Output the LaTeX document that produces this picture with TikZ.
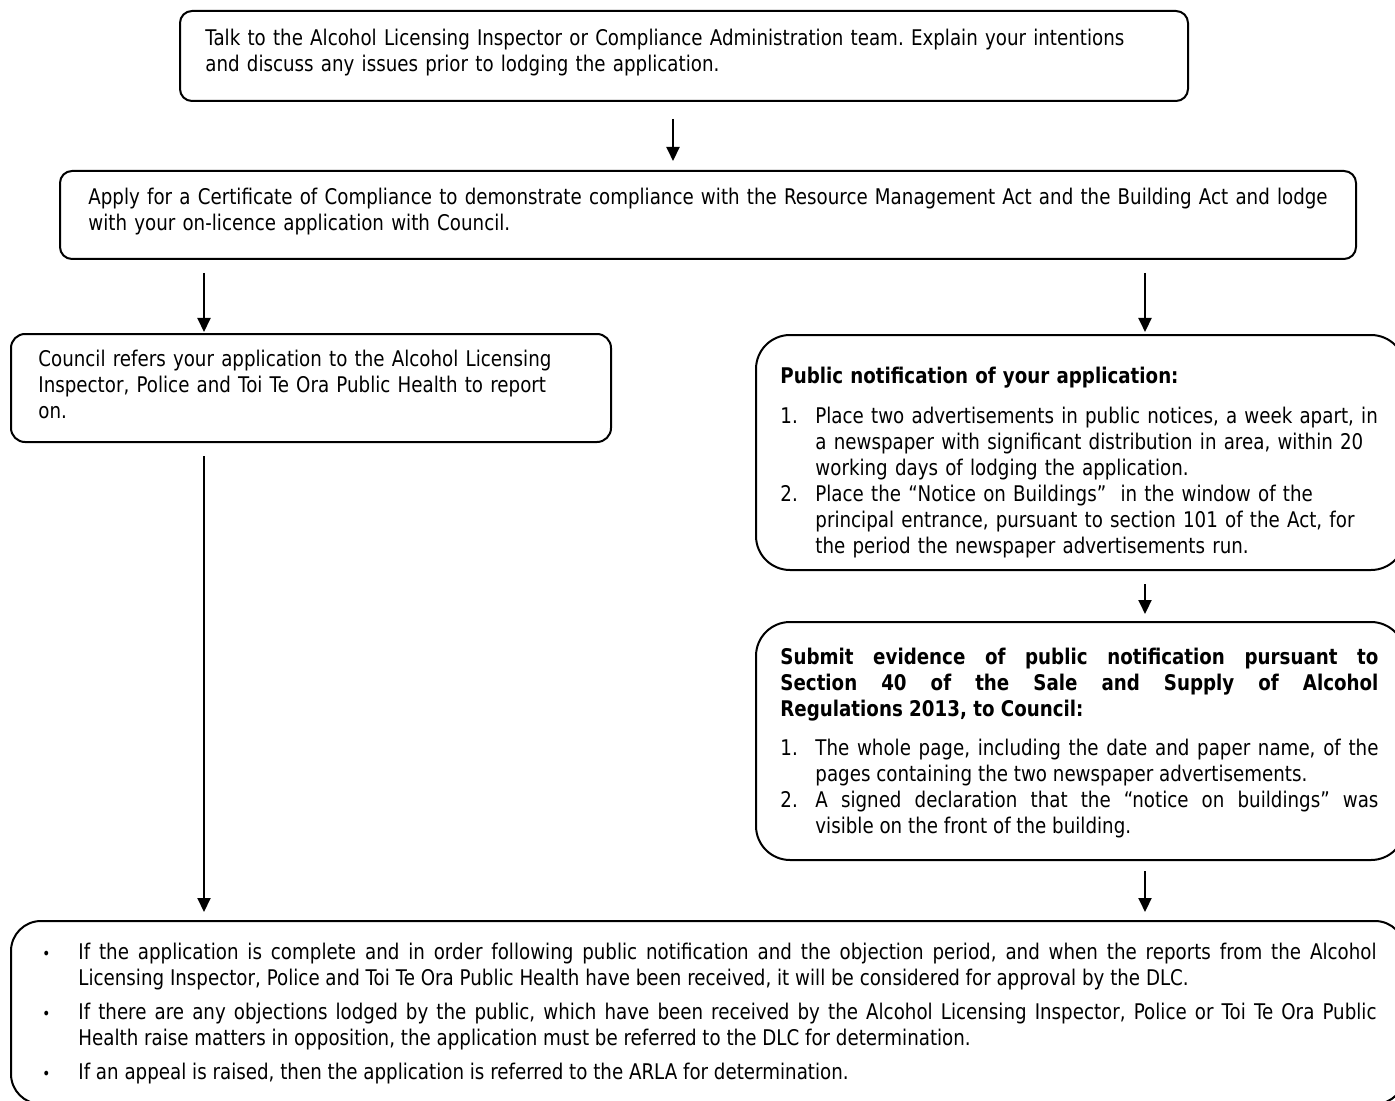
\documentclass[tikz,border=0pt]{standalone}
\usepackage{fontspec}
\setmainfont{DejaVu Sans}[FakeStretch=0.845]
\usetikzlibrary{arrows.meta,fit}
\frenchspacing
\newcommand\numitem[1]{\par\hangindent=17.5pt\hangafter=1\noindent\makebox[17.5pt][l]{#1}}
\newcommand\bulhead{\hangindent=18pt\hangafter=1\noindent\makebox[18pt][l]{\footnotesize•}}
\begin{document}
\begin{tikzpicture}[x=0.5pt,y=-0.5pt,
  box/.style={draw, line width=1pt, inner sep=0pt, rounded corners=#1},
  box/.default=6pt,
  txt/.style={inner sep=0pt, anchor=north west, font=\fontsize{10.8pt}{13pt}\selectfont},
  arr/.style={line width=1pt, -{Triangle[length=7pt,width=6.5pt]}}]
\useasboundingbox (0,0) rectangle (1395,1101);
\clip (0,0) rectangle (1395,1101);
\fill[white] (0,0) rectangle (1395,1101);
% boxes
\node[box, fit={(180,11) (1188,101)}] (b1) {};
\node[box, fit={(60,171) (1356,259)}] (b2) {};
\node[box=7pt, fit={(11,334) (611,442)}] (b3) {};
\node[box=17pt, fit={(756,335) (1405,570)}] (b4) {};
\node[box=17pt, fit={(756,622) (1405,860)}] (b5) {};
\node[box=15pt, fit={(11,921) (1405,1104)}] (b6) {};
% texts
\node[txt, text width=485pt, align=left] (t1) at (205,29)
 {Talk to the Alcohol Licensing Inspector or Compliance Administration team. Explain your intentions\\
  and discuss any issues prior to lodging the application.};
\node[txt, text width=635pt, align=left] (t2) at (88,188)
 {Apply for a Certificate of Compliance to demonstrate compliance with the Resource Management Act and the Building Act and lodge\\
  with your on-licence application with Council.};
\node[txt, text width=285pt, align=left] (t3) at (38,350)
 {Council refers your application to the Alcohol Licensing\\
  Inspector, Police and Toi Te Ora Public Health to report\\
  on.};
\node[txt, text width=310pt, align=left] (t4) at (780,367)
 {\textbf{Public notification of your application:}\par\vspace{7pt}
  \numitem{1.}Place two advertisements in public notices, a week apart, in\newline
  a newspaper with significant distribution in area, within 20\newline
  working days of lodging the application.
  \numitem{2.}Place the “Notice on Buildings”\ \ in the window of the\newline
  principal entrance, pursuant to section 101 of the Act, for\newline
  the period the newspaper advertisements run.\par};
\node[txt, text width=299pt, align=justify] (t5) at (780,648)
 {\textbf{Submit evidence of public notification pursuant to\linebreak
  Section 40 of the Sale and Supply of Alcohol\linebreak
  Regulations 2013, to Council:}\par\vspace{6.5pt}
  \numitem{1.}The whole page, including the date and paper name, of the\linebreak
  pages containing the two newspaper advertisements.
  \numitem{2.}A signed declaration that the “notice on buildings” was\linebreak
  visible on the front of the building.\par};
\node[txt, text width=667pt, align=justify] (t6) at (42,943)
 {\parskip=4pt\bulhead If the application is complete and in order following public notification and the objection period, and when the reports from the Alcohol\linebreak
  Licensing Inspector, Police and Toi Te Ora Public Health have been received, it will be considered for approval by the DLC.
  \par\bulhead If there are any objections lodged by the public, which have been received by the Alcohol Licensing Inspector, Police or Toi Te Ora Public\linebreak
  Health raise matters in opposition, the application must be referred to the DLC for determination.
  \par\bulhead If an appeal is raised, then the application is referred to the ARLA for determination.\par};
% arrow positions
\coordinate (c1) at (673,0);
\coordinate (cl) at (204,0);
\coordinate (cr) at (1145,0);
\draw[arr, shorten <=8.5pt, shorten >=4.5pt] (b1.south -| c1) -- (b2.north -| c1);
\draw[arr, shorten <=6.5pt, shorten >=0.5pt] (b2.south -| cl) -- (b3.north -| cl);
\draw[arr, shorten <=6.5pt, shorten >=1pt] (b2.south -| cr) -- (b4.north -| cr);
\draw[arr, shorten <=6.5pt, shorten >=3.5pt] (b4.south -| cr) -- (b5.north -| cr);
\draw[arr, shorten <=5pt, shorten >=4pt] (b5.south -| cr) -- (b6.north -| cr);
\draw[arr, shorten <=6.5pt, shorten >=4pt] (b3.south -| cl) -- (b6.north -| cl);
\end{tikzpicture}
\end{document}
